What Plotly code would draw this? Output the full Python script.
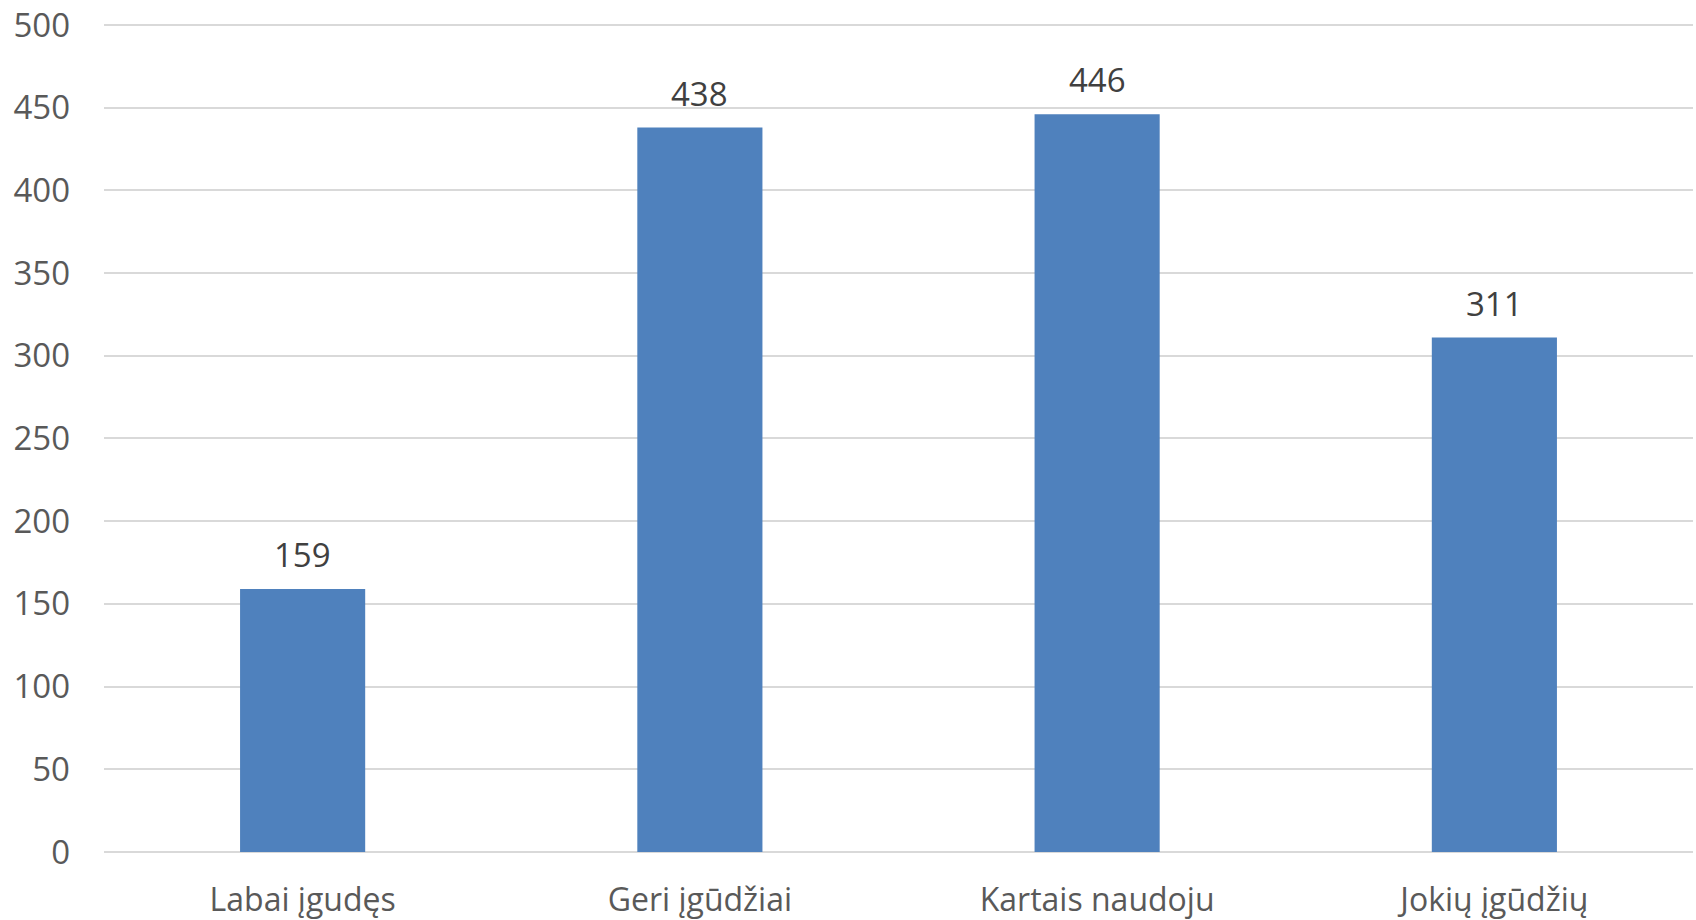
import plotly.graph_objects as go

categories = ["Labai įgudęs", "Geri įgūdžiai", "Kartais naudoju", "Jokių įgūdžių"]
values = [159, 438, 446, 311]
y_ticks = [0, 50, 100, 150, 200, 250, 300, 350, 400, 450, 500]

FONT = "Open Sans"

fig = go.Figure()
fig.add_trace(go.Bar(
    x=categories, y=values,
    marker=dict(color="#4f81bd", line=dict(width=0)),
    width=0.315,
    hoverinfo="skip",
))
for c, v in zip(categories, values):
    fig.add_annotation(x=c, y=v, text=str(v), showarrow=False,
                       yanchor="bottom", yshift=10,
                       font=dict(family=FONT, size=33, color="#404040"))

fig.update_layout(
    width=1696, height=920,
    margin=dict(l=104, r=3, t=22, b=68),
    paper_bgcolor="white", plot_bgcolor="white",
    showlegend=False,
    font=dict(family=FONT, size=33, color="#595959"),
)
fig.update_xaxes(showline=False, ticks="", showgrid=False, automargin=False,
                 ticklabelstandoff=26,
                 tickfont=dict(family=FONT, size=32, color="#595959"))
fig.update_yaxes(range=[0, 501.8], tickvals=y_ticks, showgrid=True,
                 gridcolor="#d9d9d9", gridwidth=2, zeroline=True,
                 zerolinecolor="#d9d9d9", zerolinewidth=2, showline=False,
                 ticks="", ticklabelstandoff=33, automargin=False,
                 tickfont=dict(family=FONT, size=33, color="#595959"))

fig.write_html("out.html", config={"displayModeBar": False},
               post_script="document.body.style.margin='0';document.body.style.overflow='hidden';")
